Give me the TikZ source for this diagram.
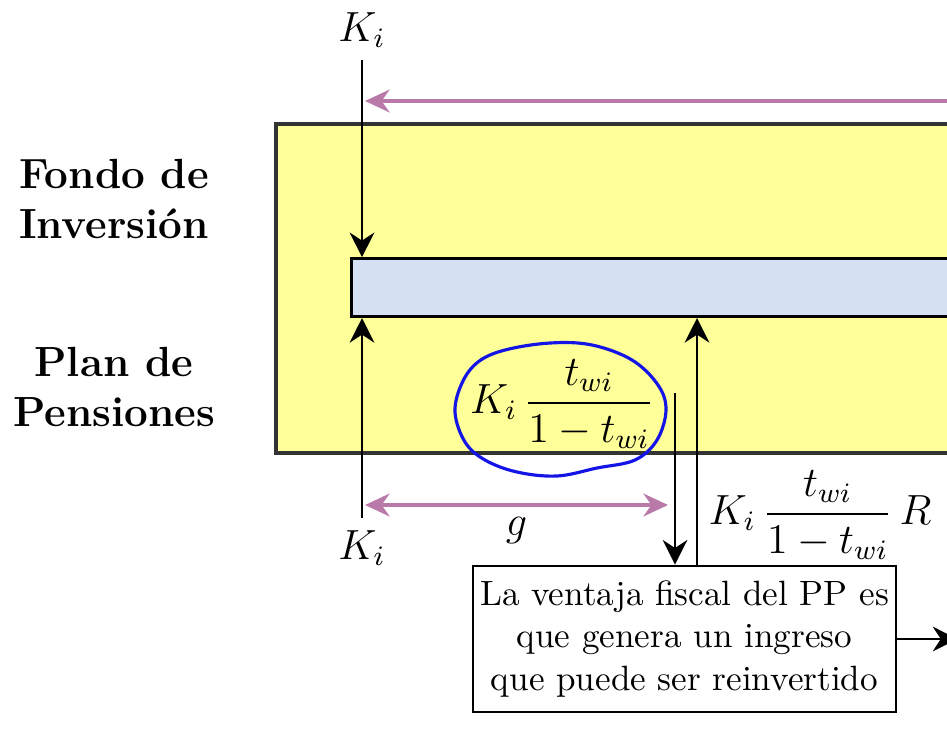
\documentclass[tikz,border=0pt]{standalone}
\usepackage{amsmath}
\usepackage{tikz}
\usetikzlibrary{calc,positioning,shapes.geometric,arrows.meta}
\usepackage{xcolor}
\definecolor{fondoyellow}{RGB}{255,255,153}
\definecolor{barblue}{RGB}{213,225,243}
\definecolor{flujo}{RGB}{185,122,170}
\definecolor{marca}{RGB}{20,20,230}
\tikzset{
  cuenta/.style={
    draw=black!80,
    line width=1pt,
    fill=fondoyellow,
  },
  barra/.style={
    draw,
    rectangle,
    minimum width=7.5cm,
    minimum height=5.8mm,
    fill=barblue,
    line width=0.8pt,
  },
  etiqueta/.style={font=\large\bfseries, align=center},
  cantidad/.style={font=\large},
  nota/.style={
    draw,
    rectangle,
    minimum width=42.3mm,
    minimum height=14.6mm,
    fill=white,
    align=center,
    inner sep=1pt,
    line width=0.8pt,
  },
  trazo/.style={draw=marca, line width=0.9pt},
  flecha/.style={line width=0.8pt, -{Stealth[length=7pt,width=7pt]}},
  retorno/.style={line width=1pt, color=flujo, -{Stealth[length=7pt,width=6.5pt]}},
}

\begin{document}
\begin{tikzpicture}
  \useasboundingbox (0,0) rectangle (9.47,7.35);
  \clip (0,0) rectangle (9.47,7.35);
  \draw[cuenta] (2.76,2.82) rectangle (10.5,6.11);
  \node[barra, anchor=south west] (bar) at (3.50,4.17) {};

  \node[etiqueta] (fondo) at (1.14,5.36) {Fondo de\\Inversi\'on};
  \node[etiqueta] (plan) at (1.14,3.48) {Plan de\\Pensiones};

  \node[cantidad] (Ksup) at (3.62,7.05) {$K_i$};
  \node[cantidad] (Kinf) at (3.62,1.87) {$K_i$};
  \draw[flecha] (Ksup.south) -- (Ksup.south |- bar.north);
  \draw[flecha] (Kinf.north) -- (Kinf.north |- bar.south);

  \coordinate (origen) at (10.5,6.34);
  \coordinate (destino) at (3.65,6.34);
  \draw[retorno] (origen) -- (destino);

  \node[cantidad] (ahorro) at (5.62,3.31) {$K_i\,\dfrac{t_{wi}}{1-t_{wi}}$};
  \draw[trazo] plot[smooth cycle, tension=0.6] coordinates {
    (4.55,3.23) (4.62,3.52) (4.78,3.73) (5.05,3.85) (5.50,3.92) (5.92,3.90)
    (6.32,3.75) (6.58,3.50) (6.66,3.25) (6.57,2.95) (6.35,2.75) (5.97,2.67)
    (5.57,2.59) (5.17,2.63) (4.85,2.75) (4.65,2.93)};

  \coordinate (gizq) at (3.65,2.30);
  \coordinate (gder) at (6.68,2.30);
  \draw[retorno, {Stealth[length=7pt,width=6.5pt]}-{Stealth[length=7pt,width=6.5pt]}] (gizq) -- (gder);
  \node[cantidad, below=0pt of $(gizq)!0.5!(gder)$] (g) {$g$};

  \node[nota] (nota) at (6.845,0.96)
    {La ventaja fiscal del PP es\\que genera un ingreso\\que puede ser reinvertido};

  \coordinate (inicio) at (6.75,3.42);
  \coordinate (salida) at (6.97,1.69);
  \draw[flecha] (inicio) -- (inicio |- nota.north);
  \draw[flecha] (salida) -- (salida |- bar.south);

  \node[cantidad] (rendimiento) at (8.20,2.20) {$K_i\,\dfrac{t_{wi}}{1-t_{wi}}\,R$};

  \coordinate (fuera) at ($(nota.east)+(0.6,0)$);
  \draw[flecha] (nota.east) -- (fuera);
\end{tikzpicture}
\end{document}
